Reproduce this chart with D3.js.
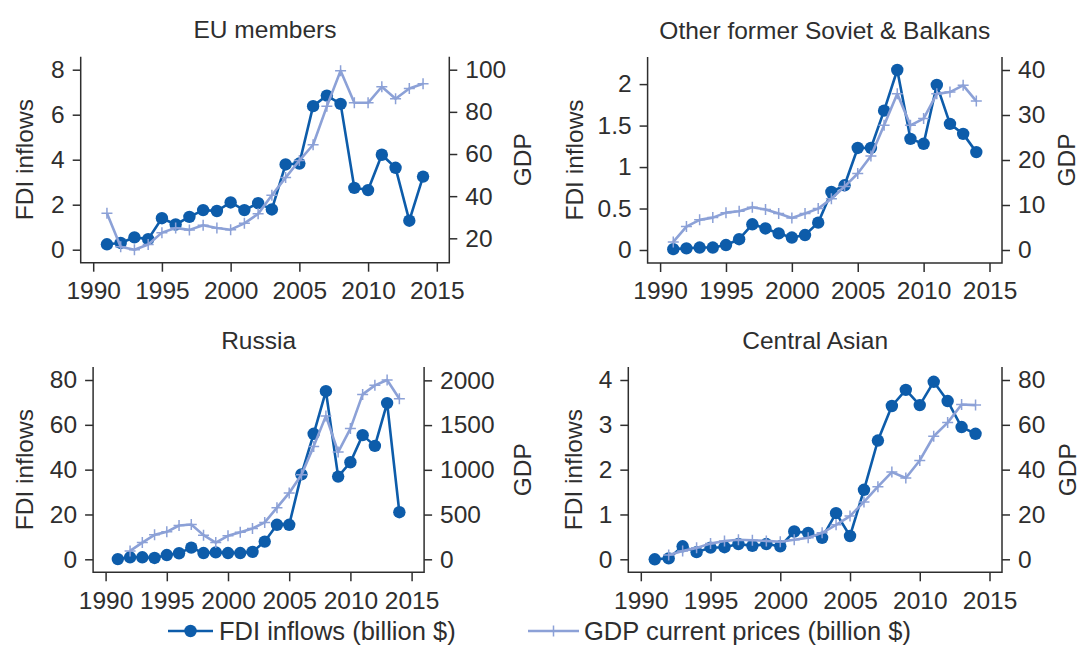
<!DOCTYPE html>
<html>
<head>
<meta charset="utf-8">
<script src="https://cdn.jsdelivr.net/npm/d3@7"></script>
<style>
body { margin: 0; background: #fff; }
svg { display: block; font-family: "Liberation Sans", Arial, sans-serif; }
</style>
</head>
<body>
<div id="chart"></div>
<script>
// data, billion $
var years = [1991, 1992, 1993, 1994, 1995, 1996, 1997, 1998, 1999, 2000, 2001, 2002,
             2003, 2004, 2005, 2006, 2007, 2008, 2009, 2010, 2011, 2012, 2013, 2014];

var panelNames = ["EU members", "Other former Soviet & Balkans", "Russia", "Central Asian"];
var seriesNames = ["FDI inflows (billion $)", "GDP current prices (billion $)"];

var fdiEU = [0.24, 0.30, 0.55, 0.47, 1.40, 1.12, 1.46, 1.76, 1.72, 2.10, 1.76, 2.07,
             1.79, 3.79, 3.83, 6.38, 6.85, 6.48, 2.75, 2.65, 4.22, 3.64, 1.29, 3.25];
var gdpEU = [31.9, 16.0, 14.6, 17.1, 22.7, 24.9, 24.0, 26.2, 24.9, 24.1, 27.1, 31.6,
             40.4, 48.8, 56.9, 64.4, 82.6, 99.5, 84.3, 84.3, 91.9, 86.2, 91.1, 93.3];

var fdiOther = [0.01, 0.02, 0.03, 0.03, 0.06, 0.13, 0.31, 0.26, 0.20, 0.15, 0.18, 0.33,
                0.70, 0.78, 1.23, 1.23, 1.68, 2.17, 1.34, 1.28, 1.99, 1.52, 1.40, 1.18];
var gdpOther = [1.8, 5.2, 6.7, 7.2, 8.3, 8.6, 9.5, 9.0, 8.1, 7.1, 8.1, 9.2,
                11.4, 14.1, 17.0, 20.9, 27.7, 34.7, 27.7, 29.2, 34.7, 35.1, 36.6, 33.1];

var fdiRussia = [0.1, 0.9, 0.9, 0.6, 1.9, 2.7, 5.2, 2.8, 3.1, 2.8, 2.8, 3.3,
                 7.9, 15.4, 15.4, 37.9, 56.0, 75.0, 36.9, 43.3, 55.4, 50.6, 69.7, 21.0];
var gdpRussia = [null, 94, 187, 273, 307, 378, 389, 270, 187, 262, 303, 345,
                 412, 577, 742, 944, 1262, 1603, 1198, 1461, 1843, 1944, 2004, 1794];

var fdiCentral = [0.00, 0.02, 0.29, 0.16, 0.26, 0.27, 0.34, 0.30, 0.34, 0.29, 0.62, 0.59,
                  0.48, 1.03, 0.52, 1.55, 2.65, 3.42, 3.78, 3.44, 3.96, 3.53, 2.95, 2.80];
var gdpCentral = [null, 1.9, 3.7, 5.1, 7.0, 8.2, 8.7, 8.5, 8.2, 7.8, 8.7, 9.6,
                  11.8, 15.4, 19.3, 25.6, 32.4, 38.9, 36.3, 44.1, 54.9, 61.0, 69.1, 68.8];

// tick labels
var yearTicks = [1990, 1995, 2000, 2005, 2010, 2015];
var fdiTicksEU = [0, 2, 4, 6, 8];
var gdpTicksEU = [20, 40, 60, 80, 100];
var fdiTicksOther = [0, 0.5, 1, 1.5, 2];
var gdpTicksOther = [0, 10, 20, 30, 40];
var fdiTicksRussia = [0, 20, 40, 60, 80];
var gdpTicksRussia = [0, 500, 1000, 1500, 2000];
var fdiTicksCentral = [0, 1, 2, 3, 4];
var gdpTicksCentral = [0, 20, 40, 60, 80];

var W = 1082, H = 645;
var FDI_COLOR = "#0d5caa";
var GDP_COLOR = "#8ca1d7";
var INK = "#2e2e2e";
var FONT = 24.5;
var LEG_FONT = 25.5;

// plot regions (page pixels)
var layout = [
    {left: 80.7,  right: 449.3, top: 56.7, bottom: 262.7, fdiTitleX: 33,  gdpTitleX: 531},
    {left: 647.6, right: 1002,  top: 57,   bottom: 263,   fdiTitleX: 583, gdpTitleX: 1075},
    {left: 93.1,  right: 424.1, top: 367,  bottom: 572.3, fdiTitleX: 33,  gdpTitleX: 531},
    {left: 628.3, right: 1002,  top: 367,  bottom: 572.3, fdiTitleX: 582, gdpTitleX: 1076}
];

var panels = [
    {fdi: fdiEU, gdp: gdpEU, fdiTicks: fdiTicksEU, gdpTicks: gdpTicksEU},
    {fdi: fdiOther, gdp: gdpOther, fdiTicks: fdiTicksOther, gdpTicks: gdpTicksOther},
    {fdi: fdiRussia, gdp: gdpRussia, fdiTicks: fdiTicksRussia, gdpTicks: gdpTicksRussia},
    {fdi: fdiCentral, gdp: gdpCentral, fdiTicks: fdiTicksCentral, gdpTicks: gdpTicksCentral}
];

var svg = d3.select("#chart").append("svg")
    .attr("width", W)
    .attr("height", H);

function plusPath(s) {
    return "M" + (-s) + ",0H" + s + "M0," + (-s) + "V" + s;
}

function drawPanel(p, box, name) {
    var vm = 13, hm = 12.5;
    var x = d3.scaleLinear()
        .domain(d3.extent(years.concat(yearTicks)))
        .range([box.left + hm, box.right - hm]);
    var yL = d3.scaleLinear()
        .domain(d3.extent(p.fdi.concat(p.fdiTicks)))
        .range([box.bottom - vm, box.top + vm]);
    var yR = d3.scaleLinear()
        .domain(d3.extent(p.gdp.filter(function(v) { return v != null; }).concat(p.gdpTicks)))
        .range([box.bottom - vm, box.top + vm]);

    var g = svg.append("g");

    // axes
    var ax = g.append("g")
        .attr("transform", "translate(0," + box.bottom + ")")
        .call(d3.axisBottom(x).tickValues(yearTicks).tickFormat(d3.format("d"))
              .tickSize(9).tickPadding(10).tickSizeOuter(0));
    var al = g.append("g")
        .attr("transform", "translate(" + box.left + ",0)")
        .call(d3.axisLeft(yL).tickValues(p.fdiTicks).tickFormat(function(d) { return String(d); })
              .tickSize(8).tickPadding(8).tickSizeOuter(0));
    var ar = g.append("g")
        .attr("transform", "translate(" + box.right + ",0)")
        .call(d3.axisRight(yR).tickValues(p.gdpTicks).tickFormat(function(d) { return String(d); })
              .tickSize(8).tickPadding(8).tickSizeOuter(0));

    [ax, al, ar].forEach(function(a) {
        a.select(".domain").remove();
        a.selectAll("line").attr("stroke", INK).attr("stroke-width", 1.5);
        a.selectAll("text").attr("fill", INK).style("font-size", FONT + "px")
         .style("font-family", "'Liberation Sans', Arial, sans-serif");
    });

    // axis lines span the plot region
    g.append("path")
        .attr("d", "M" + box.left + "," + box.top + "V" + box.bottom + "H" + box.right + "V" + box.top)
        .attr("fill", "none")
        .attr("stroke", INK)
        .attr("stroke-width", 1.5);

    // titles
    g.append("text")
        .attr("x", (box.left + box.right) / 2)
        .attr("y", box.top - 18.5)
        .attr("text-anchor", "middle")
        .attr("fill", INK)
        .style("font-size", FONT + "px")
        .text(name);

    var cy = (box.top + box.bottom) / 2;
    g.append("text")
        .attr("transform", "translate(" + box.fdiTitleX + "," + cy + ") rotate(-90)")
        .attr("text-anchor", "middle")
        .attr("fill", INK)
        .style("font-size", FONT + "px")
        .text("FDI inflows");
    g.append("text")
        .attr("transform", "translate(" + box.gdpTitleX + "," + cy + ") rotate(-90)")
        .attr("text-anchor", "middle")
        .attr("fill", INK)
        .style("font-size", FONT + "px")
        .text("GDP");

    // FDI series
    var fdiLine = d3.line()
        .x(function(d, i) { return x(years[i]); })
        .y(function(d) { return yL(d); });
    g.append("path")
        .datum(p.fdi)
        .attr("d", fdiLine)
        .attr("fill", "none")
        .attr("stroke", FDI_COLOR)
        .attr("stroke-width", 2.6)
        .attr("stroke-linejoin", "round");
    g.selectAll(".fdi-dot")
        .data(p.fdi)
        .enter().append("circle")
        .attr("class", "fdi-dot")
        .attr("cx", function(d, i) { return x(years[i]); })
        .attr("cy", function(d) { return yL(d); })
        .attr("r", 6.2)
        .attr("fill", FDI_COLOR);

    // GDP series, drawn over FDI
    var gdpLine = d3.line()
        .defined(function(d) { return d != null; })
        .x(function(d, i) { return x(years[i]); })
        .y(function(d) { return yR(d); });
    g.append("path")
        .datum(p.gdp)
        .attr("d", gdpLine)
        .attr("fill", "none")
        .attr("stroke", GDP_COLOR)
        .attr("stroke-width", 2.6)
        .attr("stroke-linejoin", "round");
    g.selectAll(".gdp-mark")
        .data(p.gdp.map(function(v, i) { return {year: years[i], v: v}; })
                   .filter(function(d) { return d.v != null; }))
        .enter().append("path")
        .attr("class", "gdp-mark")
        .attr("transform", function(d) { return "translate(" + x(d.year) + "," + yR(d.v) + ")"; })
        .attr("d", plusPath(5.5))
        .attr("stroke", GDP_COLOR)
        .attr("stroke-width", 1.5);
}

panels.forEach(function(p, i) {
    drawPanel(p, layout[i], panelNames[i]);
});

// legend
var leg = svg.append("g");
var ly = 631;
leg.append("line")
    .attr("x1", 168).attr("x2", 213).attr("y1", ly).attr("y2", ly)
    .attr("stroke", FDI_COLOR).attr("stroke-width", 2.6);
leg.append("circle")
    .attr("cx", 190.5).attr("cy", ly).attr("r", 6.2)
    .attr("fill", FDI_COLOR);
leg.append("text")
    .attr("x", 219).attr("y", ly).attr("dy", "0.35em")
    .attr("fill", INK).style("font-size", LEG_FONT + "px")
    .text(seriesNames[0]);
leg.append("line")
    .attr("x1", 528).attr("x2", 579).attr("y1", ly).attr("y2", ly)
    .attr("stroke", GDP_COLOR).attr("stroke-width", 2.6);
leg.append("path")
    .attr("transform", "translate(553.5," + ly + ")")
    .attr("d", plusPath(5.5))
    .attr("stroke", GDP_COLOR).attr("stroke-width", 1.5);
leg.append("text")
    .attr("x", 584).attr("y", ly).attr("dy", "0.35em")
    .attr("fill", INK).style("font-size", LEG_FONT + "px")
    .text(seriesNames[1]);
</script>
</body>
</html>
